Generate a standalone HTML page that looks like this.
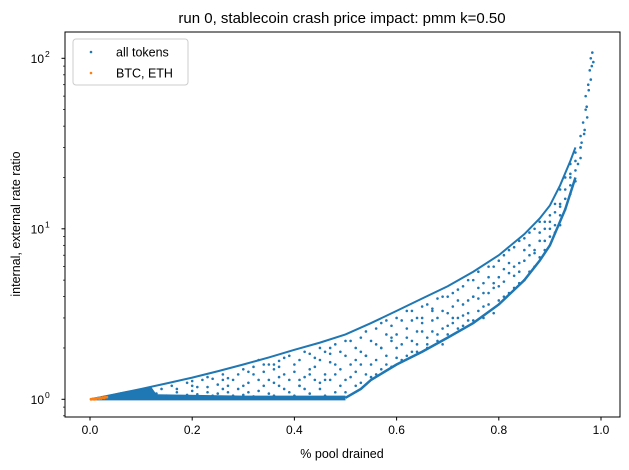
<!DOCTYPE html>
<html><head><meta charset="utf-8"><style>
body{margin:0;background:#fff;}
svg{display:block;font-family:"Liberation Sans","DejaVu Sans",sans-serif;}
</style></head><body>
<svg id="chart" width="629" height="470" viewBox="0 0 629 470">
<text x="342" y="23" font-size="15" text-anchor="middle">run 0, stablecoin crash price impact: pmm k=0.50</text>
<text x="342" y="458" font-size="12.5" text-anchor="middle">% pool drained</text>
<text transform="translate(20,224) rotate(-90)" font-size="12.5" text-anchor="middle">internal, external rate ratio</text>
<g id="plot"></g>
<g id="axes"></g>
<g>
<rect x="73" y="39" width="115" height="46" rx="3" fill="#fff" fill-opacity="0.8" stroke="#ccc"/>
<circle cx="91" cy="52" r="1.3" fill="#1f77b4"/>
<text x="116" y="56.5" font-size="12.5">all tokens</text>
<circle cx="91" cy="73" r="1.3" fill="#ff7f0e"/>
<text x="116" y="77.5" font-size="12.5">BTC, ETH</text>
</g>
</svg>
<script>
const xTicks=[0,0.2,0.4,0.6,0.8,1.0];
const xTickLabels=["0.0","0.2","0.4","0.6","0.8","1.0"];
const yMajor=[1,10,100];
const yMajorExp=["0","1","2"];
const yMinor=[0.8,0.9,2,3,4,5,6,7,8,9,20,30,40,50,60,70,80,90];
const upperX=[0,0.05,0.1,0.15,0.2,0.25,0.3,0.35,0.4,0.45,0.5,0.55,0.6,0.65,0.7,0.75,0.8,0.85,0.88,0.9,0.92,0.94,0.95];
const upperY=[1,1.07,1.15,1.24,1.34,1.46,1.6,1.76,1.95,2.15,2.4,2.8,3.3,3.9,4.6,5.6,7,9.3,11.5,13.7,18,25,30];
const lowerX=[0.5,0.53,0.55,0.6,0.65,0.7,0.75,0.8,0.85,0.88,0.9,0.93,0.95];
const lowerY=[1.02,1.15,1.3,1.6,1.9,2.3,2.8,3.6,5,6.5,8,13,20];
const bandX=[0,0.06,0.12,0.13,0.3,0.5,0.5,0];
const bandY=[1,1.1,1.18,1.07,1.05,1.05,0.985,0.985];
const allX=[0.13,0.14,0.15,0.16,0.17,0.18,0.19,0.2,0.21,0.22,0.23,0.24,0.25,0.26,0.27,0.28,0.29,0.3,0.3,0.31,0.32,0.33,0.34,0.35,0.35,0.36,0.37,0.38,0.38,0.39,0.4,0.41,0.42,0.42,0.43,0.44,0.45,0.45,0.46,0.47,0.48,0.48,0.49,0.5,0.5,0.51,0.52,0.53,0.53,0.54,0.55,0.56,0.56,0.57,0.58,0.58,0.59,0.6,0.6,0.61,0.62,0.62,0.63,0.64,0.64,0.65,0.66,0.66,0.67,0.68,0.68,0.69,0.7,0.7,0.71,0.72,0.72,0.73,0.74,0.74,0.75,0.76,0.76,0.77,0.78,0.78,0.79,0.8,0.8,0.81,0.82,0.82,0.83,0.84,0.84,0.85,0.86,0.86,0.87,0.88,0.88,0.89,0.9,0.9,0.91,0.91,0.92,0.92,0.93,0.93,0.94,0.94,0.95,0.95,0.96,0.96,0.965,0.97,0.97,0.975,0.978,0.98,0.983,0.985,0.98,0.973,0.968,0.23,0.27,0.33,0.37,0.43,0.47,0.52,0.57,0.63,0.67,0.71,0.75,0.79,0.83,0.87,0.89,0.92,0.94,0.96,0.2,0.26,0.31,0.36,0.41,0.46,0.54,0.59,0.65,0.69,0.73,0.77,0.81,0.85];
const allY=[1.08,1.15,1.05,1.2,1.1,1.03,1.25,1.12,1.07,1.3,1.18,1.05,1.22,1.4,1.1,1.3,1.15,1.5,1.06,1.25,1.4,1.12,1.6,1.3,1.08,1.5,1.2,1.75,1.4,1.1,1.6,1.3,1.9,1.15,1.5,1.75,1.25,2.0,1.4,1.65,1.1,2.1,1.5,1.8,1.3,2.2,1.45,1.9,1.25,2.5,1.6,2.1,1.4,2.8,1.8,2.4,1.55,3.0,2.0,1.7,2.6,3.3,2.2,1.9,3.0,2.5,3.6,2.1,2.9,3.9,2.4,3.3,2.7,4.0,3.5,2.6,4.4,3.1,5.0,3.8,2.9,4.5,5.6,3.5,6.0,4.2,3.2,5.2,6.5,4.0,7.5,5.5,4.5,8.5,6.3,5.0,9.5,7.0,6.0,11,8.5,7.5,12,10,9.5,14,12,17,15,20,18,24,22,28,26,35,42,50,60,70,85,100,108,95,75,45,38,1.35,1.2,1.7,1.35,1.4,1.85,1.7,2.0,2.9,3.4,3.0,4.0,4.8,6.0,7.5,10,14,20,30,1.2,1.3,1.45,1.6,1.2,1.3,1.8,2.3,3.0,2.1,3.6,4.2,4.9,7.5];
const moreX=[0.15,0.17,0.19,0.2,0.21,0.22,0.23,0.24,0.25,0.26,0.27,0.28,0.29,0.3,0.31,0.32,0.32,0.33,0.34,0.34,0.35,0.36,0.36,0.37,0.37,0.38,0.39,0.39,0.4,0.4,0.41,0.41,0.42,0.43,0.43,0.44,0.44,0.45,0.45,0.46,0.46,0.47,0.47,0.48,0.48,0.49,0.49,0.5,0.5,0.51,0.51,0.52,0.52,0.53,0.53,0.54,0.54,0.55,0.55,0.56,0.56,0.57,0.57,0.58,0.58,0.59,0.59,0.6,0.6,0.61,0.61,0.62,0.62,0.63,0.63,0.64,0.64,0.65,0.65,0.66,0.66,0.67,0.67,0.68,0.68,0.69,0.69,0.7,0.7,0.71,0.71,0.72,0.72,0.73,0.73,0.74,0.74,0.75,0.75,0.76,0.76,0.77,0.77,0.78,0.78,0.79,0.79,0.8,0.8,0.81,0.81,0.82,0.82,0.83,0.83,0.84,0.84,0.85,0.85,0.86,0.86,0.87,0.87,0.88,0.88,0.89,0.89,0.9,0.9,0.91,0.91,0.92,0.92,0.93,0.93,0.94,0.94,0.95,0.95,0.955,0.96,0.962,0.967,0.972,0.976,0.982];
const moreY=[1.02,1.15,1.06,1.28,1.18,1.04,1.1,1.32,1.08,1.15,1.33,1.05,1.4,1.2,1.1,1.55,1.04,1.3,1.2,1.45,1.6,1.05,1.25,1.55,1.68,1.15,1.3,1.8,1.45,1.05,1.7,1.2,1.35,1.85,1.08,1.3,1.55,1.15,1.7,1.9,1.05,1.3,2.0,1.6,1.4,1.2,1.9,2.2,1.1,1.6,1.35,2.0,1.2,1.6,2.3,1.4,1.8,2.2,1.35,1.7,2.6,1.5,2.0,2.9,1.6,2.2,2.7,1.75,2.4,2.9,2.1,1.8,2.3,3.3,1.9,2.5,2.1,2.8,3.5,2.3,2.0,3.3,2.5,2.2,3.0,2.6,4.0,3.2,2.4,2.8,4.2,3.0,3.8,2.7,4.6,3.2,2.9,4.0,5.0,3.3,3.9,4.8,3.0,3.6,5.2,4.5,6.0,3.8,4.6,5.8,7.0,4.2,6.3,5.3,7.8,4.8,5.6,6.5,8.8,5.6,8.0,7.2,10,6.8,9.5,8.5,11,9,11,10.5,12.5,13.5,10.5,13,17,16,21,19,25,24,30,32,36,52,65,90];
const btcX=[0.002,0.005,0.008,0.01,0.012,0.015,0.018,0.02,0.022,0.025,0.028,0.03,0.033];
const btcY=[1.0,1.005,1.0,1.01,1.005,1.015,1.01,1.02,1.012,1.025,1.02,1.03,1.03];

const NS="http://www.w3.org/2000/svg";
const L=65,R=620,T=32,B=417;
function sx(v){return 90+v*511;}
function sy(v){return 399.3-Math.log10(v)*170.5;}
const plot=document.getElementById('plot'),axes=document.getElementById('axes');
function mk(tag,attrs,parent){const e=document.createElementNS(NS,tag);for(const k in attrs)e.setAttribute(k,attrs[k]);parent.appendChild(e);return e;}

let pts=bandX.map((x,i)=>sx(x)+","+sy(bandY[i])).join(" ");
let band=mk('polygon',{points:pts,fill:'#1f77b4'},plot);


let up=mk('polyline',{points:upperX.map((x,i)=>sx(x)+","+sy(upperY[i])).join(" "),fill:'none',stroke:'#1f77b4','stroke-width':2},plot);


let lo=mk('polyline',{points:lowerX.map((x,i)=>sx(x)+","+sy(lowerY[i])).join(" "),fill:'none',stroke:'#1f77b4','stroke-width':2.5},plot);


allX.forEach((x,i)=>{
  const c=mk('circle',{cx:sx(x),cy:sy(allY[i]),r:1.3,fill:'#1f77b4'},plot);
  
  
});
moreX.forEach((x,i)=>{
  const c=mk('circle',{cx:sx(x),cy:sy(moreY[i]),r:1.3,fill:'#1f77b4'},plot);
  
  
});
btcX.forEach((x,i)=>{
  const c=mk('circle',{cx:sx(x),cy:sy(btcY[i]),r:1.4,fill:'#ff7f0e'},plot);
  
  
});
const fr=mk('rect',{x:L,y:T,width:R-L,height:B-T,fill:'none',stroke:'#000','stroke-width':1},axes);


xTicks.forEach((v,i)=>{
  mk('line',{x1:sx(v),x2:sx(v),y1:B,y2:B+3.5,stroke:'#000'},axes);
  const t=mk('text',{x:sx(v),y:B+17,'font-size':12,'text-anchor':'middle'},axes);
  t.textContent=xTickLabels[i];
  
  
});
yMajor.forEach((v,i)=>{
  const y=sy(v);
  mk('line',{x1:L-3.5,x2:L,y1:y,y2:y,stroke:'#000'},axes);
  const t=mk('text',{x:L-21,y:y+4.5,'font-size':12,'text-anchor':'end'},axes);
  t.textContent="10";
  
  
  const s=mk('text',{x:L-20,y:y-1.5,'font-size':8.5},axes);
  s.textContent=yMajorExp[i];
  
  
});
yMinor.forEach(v=>{
  const y=sy(v);
  mk('line',{x1:L-2,x2:L,y1:y,y2:y,stroke:'#000','stroke-width':0.7},axes);
});
</script>
</body></html>
